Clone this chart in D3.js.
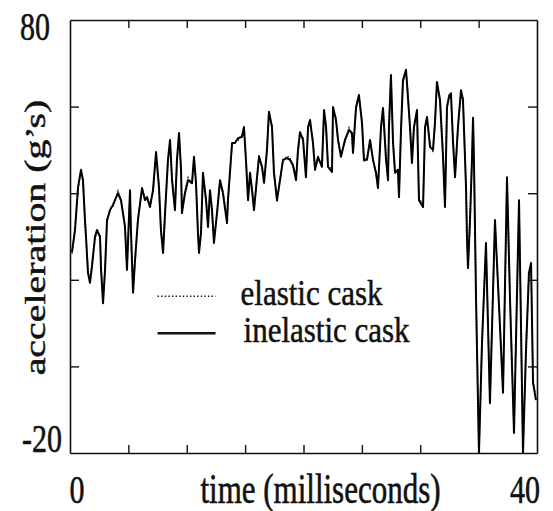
<!DOCTYPE html>
<html>
<head>
<meta charset="utf-8">
<script src="https://cdn.jsdelivr.net/npm/d3@7"></script>
<style>
  body { margin: 0; background: #fff; }
  svg { display: block; }
</style>
</head>
<body>
<div id="chart"></div>
<script>
// time in milliseconds
const times = [
  0.17, 0.43, 0.69, 0.94, 1.11, 1.28, 1.37, 1.54, 1.71, 1.88, 2.14, 2.31, 2.57, 2.66, 2.83,
  3.00, 3.17, 3.43, 3.68, 4.11, 4.37, 4.71, 4.88, 5.14, 5.22, 5.40, 5.57, 5.82, 6.17, 6.42,
  6.60, 6.85, 7.11, 7.37, 7.62, 7.79, 7.97, 8.14, 8.39, 8.57, 8.74, 8.99, 9.16, 9.34, 9.51,
  9.59, 9.85, 10.11, 10.45, 10.62, 10.79, 10.96, 11.05, 11.22, 11.39, 11.65, 11.82, 11.99, 12.16, 12.33,
  12.59, 12.85, 13.10, 13.45, 13.53, 13.88, 14.13, 14.39, 14.73, 14.90, 15.07, 15.25, 15.42, 15.59, 15.76,
  16.02, 16.19, 16.45, 16.62, 16.87, 17.04, 17.30, 17.47, 17.73, 17.99, 18.24, 18.59, 18.84, 19.10, 19.36,
  19.53, 19.70, 19.96, 20.21, 20.39, 20.56, 20.81, 20.99, 21.24, 21.58, 21.76, 21.93, 22.10, 22.44, 22.53,
  22.78, 22.96, 23.21, 23.55, 23.90, 24.15, 24.24, 24.50, 24.75, 25.01, 25.18, 25.44, 25.70, 25.95, 26.21,
  26.38, 26.64, 26.81, 27.07, 27.24, 27.32, 27.49, 27.67, 27.84, 28.09, 28.18, 28.35, 28.52, 28.78, 28.86,
  29.12, 29.29, 29.46, 29.72, 29.89, 30.24, 30.41, 30.58, 30.84, 31.09, 31.26, 31.43, 31.69, 31.95, 32.12,
  32.29, 32.46, 32.63, 32.81, 32.98, 33.23, 33.49, 33.66, 33.92, 34.00, 34.09, 34.26, 34.43, 34.52, 34.60,
  34.78, 35.03, 35.29, 35.63, 35.97, 36.40, 36.83, 37.09, 37.43, 37.69, 38.03, 38.46, 38.80, 39.06, 39.31,
  39.49, 39.66, 39.91
];

// acceleration (g's), inelastic cask (solid)
const inelastic = [
  26.4, 31.5, 41.4, 45.4, 43.0, 33.8, 29.9, 21.6, 19.3, 23.0, 29.9, 31.5, 29.9, 22.3, 14.6,
  22.3, 33.8, 36.1, 37.3, 40.0, 38.4, 32.2, 22.3, 40.7, 31.5, 17.0, 24.6, 33.8, 41.2, 38.4,
  39.1, 36.8, 40.7, 49.5, 41.4, 31.5, 26.2, 35.4, 47.7, 52.3, 43.0, 36.1, 47.7, 53.9, 45.4,
  35.4, 40.0, 43.0, 42.4, 48.4, 42.4, 30.8, 26.2, 30.8, 44.7, 38.4, 32.2, 40.7, 36.1, 28.5,
  35.4, 43.0, 40.0, 33.1, 38.4, 51.6, 51.6, 52.7, 53.0, 55.3, 47.7, 38.4, 44.7, 40.7, 36.1,
  43.7, 48.4, 46.1, 42.4, 50.0, 58.8, 55.3, 44.7, 38.4, 43.0, 47.7, 48.1, 47.7, 46.5, 43.0,
  50.0, 54.1, 52.3, 43.7, 55.3, 56.9, 51.6, 45.4, 48.4, 46.1, 59.2, 55.3, 46.1, 44.9, 59.9,
  56.9, 52.3, 48.4, 52.3, 54.6, 53.9, 49.3, 59.9, 62.7, 56.2, 47.7, 47.7, 52.3, 47.7, 44.7,
  41.2, 55.3, 59.7, 47.7, 43.0, 55.3, 67.3, 51.6, 44.7, 45.4, 39.1, 54.6, 66.1, 68.5, 65.5,
  55.3, 47.0, 55.3, 59.2, 38.4, 36.8, 55.3, 57.6, 50.7, 50.0, 56.2, 65.7, 61.5, 48.4, 36.8,
  59.9, 62.2, 63.1, 51.6, 43.7, 55.3, 63.8, 61.5, 41.4, 29.9, 22.7, 33.8, 47.7, 57.4, 47.7,
  15.3, -20.0, 5.4, 28.5, -8.5, 33.8, 9.1, -6.1, 43.7, 15.3, -15.4, 38.4, -20.0, 3.8, 21.6,
  23.9, -3.8, -7.8
];

// acceleration (g's), elastic cask (dotted)
const elastic = [
  26.0, 32.0, 41.0, 45.0, 43.5, 34.5, 30.5, 22.0, 19.8, 23.5, 29.5, 31.0, 30.5, 22.8, 15.5,
  22.0, 33.0, 36.5, 37.0, 40.5, 38.0, 32.8, 23.0, 40.2, 31.0, 17.8, 24.0, 34.3, 40.8, 38.8,
  38.7, 37.3, 40.2, 49.0, 41.9, 31.0, 26.8, 35.0, 47.2, 51.8, 43.5, 36.6, 47.2, 53.2, 45.9,
  35.9, 40.5, 43.6, 42.0, 47.8, 42.9, 31.3, 26.8, 31.5, 44.1, 38.9, 32.8, 40.2, 36.6, 29.1,
  35.0, 42.5, 40.6, 33.7, 38.0, 51.0, 52.0, 52.2, 53.5, 54.8, 48.2, 38.9, 44.2, 41.2, 36.7,
  43.2, 48.9, 45.6, 42.9, 49.5, 58.2, 55.8, 45.2, 38.0, 43.5, 47.2, 48.6, 48.2, 46.0, 43.5,
  49.5, 53.6, 52.8, 44.2, 54.8, 56.4, 52.1, 45.9, 47.9, 46.6, 58.7, 55.8, 46.6, 45.4, 59.4,
  57.4, 51.8, 48.9, 51.8, 55.1, 53.4, 49.8, 59.4, 62.2, 56.7, 47.2, 48.2, 51.8, 48.2, 44.2,
  41.7, 54.8, 59.2, 48.2, 43.5, 54.8, 66.8, 52.1, 45.2, 44.9, 39.6, 54.1, 65.6, 68.0, 66.0,
  55.8, 47.5, 54.8, 58.7, 38.9, 37.3, 54.8, 57.1, 51.2, 49.5, 56.7, 65.2, 62.0, 48.9, 37.3,
  59.4, 62.7, 62.6, 52.1, 44.2, 54.8, 63.3, 62.0, 41.9, 30.4, 23.2, 33.3, 47.2, 56.9, 48.2,
  16.0, -19.2, 6.2, 27.8, -7.8, 33.0, 9.9, -5.4, 43.0, 16.0, -14.6, 37.6, -19.3, 4.6, 20.9,
  23.2, -3.1, -7.0
];

const xTicks = [0, 5, 10, 15, 20, 25, 30, 35, 40];
const yTicks = [-20, 0, 20, 40, 60, 80];
const xEndLabels = ["0", "40"];
const yEndLabels = ["-20", "80"];
const seriesNames = ["elastic cask", "inelastic cask"];

const FONT = "'Liberation Serif', 'Times New Roman', Times, serif";
const STRETCH = 1.33; // the scanned type is taller than it is wide

const W = 553, H = 511;
const margin = { top: 20, right: 16, bottom: 58, left: 70 },
    width = W - margin.left - margin.right,
    height = H - margin.top - margin.bottom;

const svg = d3.select("#chart")
    .append("svg")
    .attr("width", W)
    .attr("height", H)
    .append("g")
    .attr("transform", `translate(${margin.left},${margin.top})`);

const x = d3.scaleLinear().domain([0, 40]).range([0, width]);
const y = d3.scaleLinear().domain([-20, 80]).range([height, 0]);

const inner = xTicks.slice(1, -1);
const innerY = yTicks.slice(1, -1);

// Frame with inward ticks on all four sides
function styleAxis(g) {
    g.selectAll("path.domain").attr("stroke", "#111").attr("stroke-width", 1.6);
    g.selectAll(".tick line").attr("stroke", "#111").attr("stroke-width", 1.4);
    g.selectAll(".tick text").remove();
}

svg.append("g").attr("transform", `translate(0,${height})`)
    .call(d3.axisBottom(x).tickValues(inner).tickSizeInner(-8).tickSizeOuter(0))
    .call(styleAxis);
svg.append("g")
    .call(d3.axisTop(x).tickValues(inner).tickSizeInner(-8).tickSizeOuter(0))
    .call(styleAxis);
svg.append("g")
    .call(d3.axisLeft(y).tickValues(innerY).tickSizeInner(-9).tickSizeOuter(0))
    .call(styleAxis);
svg.append("g").attr("transform", `translate(${width},0)`)
    .call(d3.axisRight(y).tickValues(innerY).tickSizeInner(-9).tickSizeOuter(0))
    .call(styleAxis);

// Series
const line = d3.line()
    .x((d, i) => x(times[i]))
    .y(d => y(d));

svg.append("path")
    .datum(elastic)
    .attr("fill", "none")
    .attr("stroke", "#333")
    .attr("stroke-width", 1.5)
    .attr("stroke-dasharray", "1.5,1.5")
    .attr("d", line);

svg.append("path")
    .datum(inelastic)
    .attr("fill", "none")
    .attr("stroke", "#000")
    .attr("stroke-width", 2)
    .attr("stroke-linejoin", "round")
    .attr("d", line);

// text placed at (px, py) baseline, stretched vertically like the scan
function label(px, py, size, str, anchor, rotate, stretch = STRETCH) {
    return svg.append("text")
        .attr("transform", `translate(${px},${py}) scale(1,${stretch})` + (rotate ? " rotate(-90)" : ""))
        .attr("font-family", FONT)
        .attr("font-size", size)
        .attr("fill", "#111")
        .attr("stroke", "#111")
        .attr("stroke-width", 0.45)
        .attr("text-anchor", anchor)
        .text(str);
}

// End labels
label(-20, y(80) + 20, 30, yEndLabels[1], "end");
label(-8, y(-20) - 1, 30, yEndLabels[0], "end");
label(x(0) + 7, height + 50, 30, xEndLabels[0], "middle");
label(x(40) - 12, height + 50, 30, xEndLabels[1], "middle");

// Axis titles
label(x(20) + 17, height + 50, 31, "time (milliseconds)", "middle");
label(-25, y(30) + 1, 30, "acceleration (g’s)", "middle", true);

// Legend
const lx = x(7.5), ly = y(16.2);
seriesNames.forEach((name, i) => {
    svg.append("line")
        .attr("x1", lx).attr("x2", lx + 58)
        .attr("y1", ly + i * 37).attr("y2", ly + i * 37)
        .attr("stroke", "#111")
        .attr("stroke-width", i === 0 ? 1.6 : 2.6)
        .attr("stroke-dasharray", i === 0 ? "1.4,2.2" : null);
    label(lx + 83 + i * 3, ly + i * 37 + 9, 31, name, "start", false, 1.17);
});
</script>
</body>
</html>
